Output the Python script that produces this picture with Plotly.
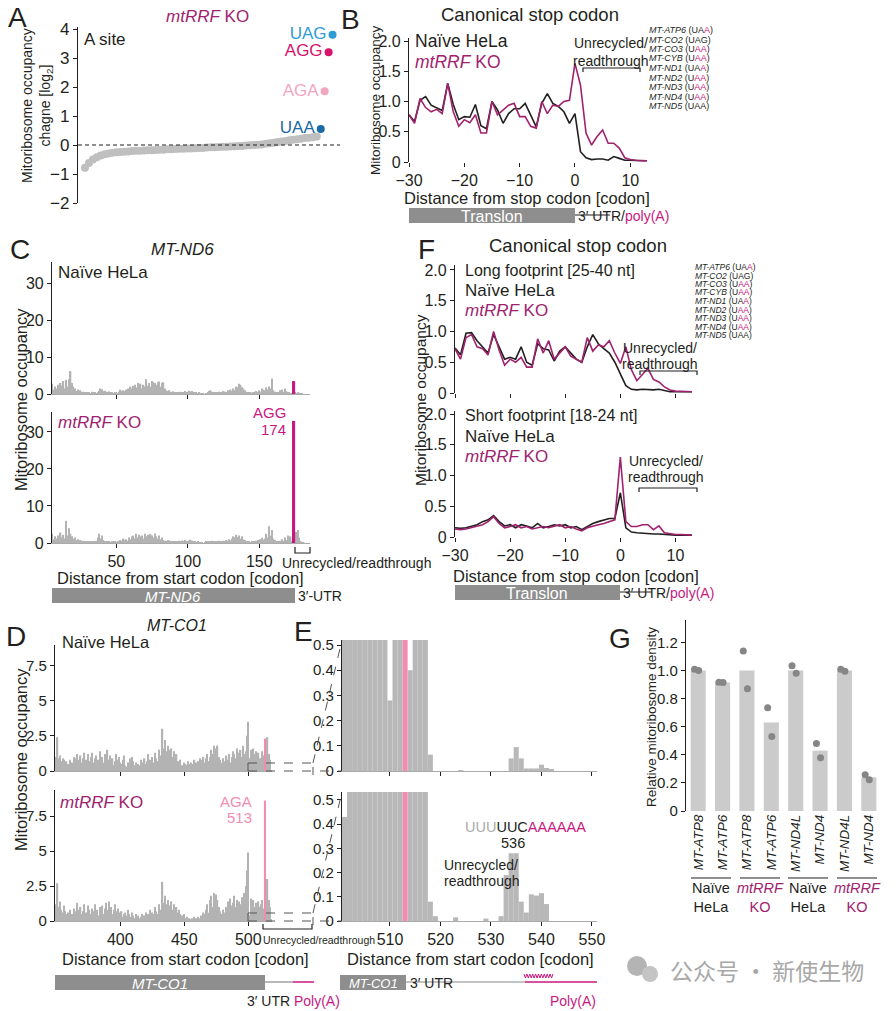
import plotly.graph_objects as go

W, H = 896, 1011
FONT = "Liberation Sans, Arial, Helvetica, sans-serif"
NARROW = "Liberation Sans Narrow, Arial Narrow, Liberation Sans, sans-serif"
DARK = "#231f20"
MAG = "#a0226e"
MAG_BRIGHT = "#c8197f"
PINK = "#f18db0"
GRAY_BAR = "#b3b3b3"
GENE_GRAY = "#8e8e8e"

# ---------------- data ----------------
# A: A-site codon occupancy change (log2), sorted
a_codon_values = [-0.78, -0.62, -0.5, -0.42, -0.36, -0.32, -0.29, -0.27, -0.25, -0.24,
                  -0.23, -0.22, -0.21, -0.20, -0.20, -0.19, -0.18, -0.18, -0.17, -0.16,
                  -0.16, -0.15, -0.15, -0.14, -0.13, -0.13, -0.12, -0.12, -0.11, -0.10,
                  -0.10, -0.09, -0.08, -0.08, -0.07, -0.06, -0.06, -0.05, -0.04, -0.03,
                  -0.03, -0.02, -0.01, 0.0, 0.01, 0.02, 0.04, 0.06, 0.08, 0.10,
                  0.12, 0.14, 0.16, 0.18, 0.20, 0.22, 0.24, 0.25, 0.27, 0.29]
a_highlight_codons = ["UAA", "AGA", "AGG", "UAG"]
a_highlight_values = [0.55, 1.85, 3.2, 3.8]
a_highlight_colors = ["#1b6aa5", "#f4a6c0", "#d6126b", "#2f9bd6"]

# B: metagene around canonical stop codon
b_positions = list(range(-30, 14))
b_naive = [0.78, 0.67, 1.02, 1.08, 0.94, 0.9, 0.85, 1.3, 0.95, 0.7,
           0.75, 0.74, 0.95, 0.6, 0.55, 1.0, 0.86, 0.64, 0.8, 0.88,
           0.88, 0.97, 0.78, 0.58, 0.97, 1.13, 0.97, 0.92, 0.83, 0.64,
           0.8, 0.17, 0.07, 0.04, 0.05, 0.05, 0.03, 0.09, 0.06, 0.03, 0.03, 0.02, 0.02, 0.02]
b_ko = [0.78, 0.64, 1.05, 0.9, 0.83, 0.87, 0.8, 1.3, 0.83, 0.59,
        0.7, 0.65, 0.78, 0.48, 0.48, 1.0, 0.78, 0.86, 0.94, 0.97,
        0.75, 0.75, 0.59, 0.56, 1.0, 0.8, 0.94, 0.92, 1.0, 1.02,
        1.63, 1.27, 0.48, 0.28, 0.42, 0.53, 0.31, 0.31, 0.23, 0.07, 0.04, 0.03, 0.03, 0.02]
stop_genes = ["MT-ATP6", "MT-CO2", "MT-CO3", "MT-CYB", "MT-ND1", "MT-ND2", "MT-ND3", "MT-ND4", "MT-ND5"]
stop_encoded = ["UA", "UAG", "U", "U", "UA", "U", "U", "U", "UAA"]
stop_added = ["A", "", "AA", "AA", "A", "AA", "AA", "AA", ""]

# F: long / short footprints
f_long_naive = [0.73, 0.62, 0.97, 0.98, 0.85, 0.75, 0.65, 0.95, 0.75, 0.55,
                0.58, 0.55, 0.75, 0.5, 0.45, 0.8, 0.72, 0.7, 0.52, 0.68,
                0.75, 0.65, 0.55, 0.5, 0.75, 0.95, 0.8, 0.72, 0.65, 0.5,
                0.3, 0.12, 0.06, 0.05, 0.06, 0.05, 0.05, 0.06, 0.04, 0.02, 0.02, 0.02, 0.02, 0.02]
f_long_ko = [0.72, 0.55, 0.9, 0.95, 0.75, 0.72, 0.62, 1.0, 0.7, 0.45,
             0.55, 0.5, 0.58, 0.42, 0.42, 0.88, 0.65, 0.85, 0.55, 0.65,
             0.75, 0.6, 0.55, 0.5, 0.9, 0.68, 0.78, 0.75, 0.85, 0.65,
             0.48, 0.75, 0.38, 0.2, 0.3, 0.4, 0.22, 0.18, 0.1, 0.05, 0.03, 0.03, 0.02, 0.02]
f_short_naive = [0.15, 0.14, 0.15, 0.18, 0.2, 0.25, 0.28, 0.35, 0.25, 0.18,
                 0.2, 0.15, 0.2, 0.18, 0.15, 0.22, 0.15, 0.17, 0.2, 0.18,
                 0.2, 0.15, 0.17, 0.12, 0.17, 0.22, 0.25, 0.27, 0.3, 0.3,
                 0.72, 0.15, 0.08, 0.07, 0.06, 0.06, 0.05, 0.05, 0.04, 0.03, 0.03, 0.03, 0.03, 0.03]
f_short_ko = [0.13, 0.12, 0.13, 0.15, 0.18, 0.2, 0.25, 0.33, 0.22, 0.15,
              0.17, 0.2, 0.15, 0.17, 0.13, 0.15, 0.17, 0.15, 0.18, 0.2,
              0.15, 0.17, 0.13, 0.1, 0.15, 0.18, 0.2, 0.22, 0.25, 0.28,
              1.3, 0.25, 0.17, 0.17, 0.2, 0.2, 0.12, 0.18, 0.07, 0.05, 0.04, 0.04, 0.04, 0.03]

# C: MT-ND6 codon occupancy (codons 5..183)
c_codons = list(range(5, 184))
c_naive = [2.8, 1.2, 2.0, 1.5, 2.5, 1.0, 3.0, 2.2, 3.5, 1.5,
           3.8, 2.0, 4.0, 6.2, 3.0, 2.0, 1.5, 0.8, 1.2, 0.6,
           1.0, 0.5, 0.6, 0.3, 0.5, 0.4, 0.3, 0.2, 0.6, 0.4,
           0.3, 0.2, 0.5, 0.9, 1.5, 1.3, 0.8, 0.9, 0.4, 0.6,
           0.7, 0.3, 0.5, 0.2, 0.4, 0.3, 0.2, 0.6, 1.2, 0.8,
           1.0, 0.8, 1.2, 1.5, 1.0, 2.0, 1.5, 2.2, 2.5, 1.8,
           3.0, 2.0, 2.8, 1.5, 2.5, 2.0, 4.0, 2.2, 3.0, 2.0,
           3.5, 3.2, 3.0, 2.5, 3.2, 3.4, 2.0, 3.0, 3.2, 1.5,
           1.0, 0.8, 1.0, 0.6, 0.5, 0.7, 0.4, 0.5, 0.3, 0.4,
           0.6, 0.3, 0.5, 0.8, 0.5, 0.6, 0.9, 0.7, 0.8, 0.5,
           0.3, 0.4, 0.2, 0.3, 0.2, 0.1, 0.1, 0.0, 0.2, 0.5,
           0.8, 1.0, 0.6, 0.4, 0.3, 0.5, 0.4, 0.6, 0.3, 0.5,
           0.8, 0.6, 0.5, 1.0, 0.7, 1.2, 0.8, 1.5, 1.0, 2.0,
           1.8, 2.8, 2.5, 1.8, 1.5, 1.0, 0.6, 0.4, 0.3, 0.5,
           0.2, 0.4, 0.6, 0.8, 0.5, 1.0, 0.6, 1.5, 1.2, 1.0,
           1.8, 1.2, 2.0, 1.5, 4.2, 1.0, 0.6, 0.4, 0.3, 0.5,
           1.0, 1.2, 0.6, 1.5, 0.8, 0.4, 0.3, 0.2, 0.1, 0.0,
           0.3, 0.2, 0.3, 0.1, 0.1, 0.1, 0.0, 0.0, 0.0]
c_ko = [2.5, 1.0, 1.8, 1.2, 2.0, 0.8, 2.8, 1.5, 2.2, 1.2,
        6.0, 2.0, 4.0, 2.5, 1.8, 1.2, 1.5, 0.8, 1.0, 0.5,
        0.8, 0.4, 0.6, 0.3, 0.4, 0.3, 0.2, 0.3, 0.5, 0.3,
        0.4, 0.6, 1.5, 2.5, 1.2, 2.0, 0.8, 0.5, 0.3, 0.4,
        0.3, 0.2, 0.4, 0.3, 0.5, 0.2, 0.3, 0.6, 0.8, 0.5,
        1.2, 0.8, 1.0, 0.6, 1.5, 1.0, 1.8, 2.0, 1.2, 2.5,
        1.5, 2.2, 1.8, 2.0, 1.2, 2.5, 1.8, 2.2, 1.5, 2.4,
        2.0, 1.5, 2.6, 1.8, 1.2, 2.0, 1.0, 1.5, 0.8, 0.6,
        0.5, 0.8, 0.4, 0.6, 0.3, 0.5, 0.4, 0.3, 0.5, 0.6,
        0.4, 0.7, 0.5, 0.8, 0.6, 0.5, 0.7, 0.9, 0.6, 0.4,
        0.3, 0.2, 0.3, 0.1, 0.2, 0.1, 0.0, 0.1, 0.3, 0.4,
        0.5, 0.3, 0.6, 0.4, 0.5, 0.3, 0.4, 0.6, 0.5, 0.4,
        0.6, 0.5, 0.8, 0.6, 1.0, 0.7, 1.2, 1.8, 1.5, 2.2,
        1.6, 2.0, 1.2, 1.8, 1.0, 0.8, 0.5, 0.3, 0.4, 0.2,
        0.3, 0.5, 0.4, 0.6, 0.8, 0.5, 1.0, 1.4, 0.9, 1.2,
        2.5, 1.5, 4.5, 2.0, 3.5, 1.2, 0.8, 0.5, 0.3, 0.4,
        0.6, 1.0, 0.5, 1.5, 0.8, 2.0, 0.6, 1.8, 0.5, 0.0,
        2.5, 3.0, 3.5, 1.5, 0.5, 0.2, 0.1, 0.0, 0.0]
c_stop_codon = [174]
c_stop_naive = [3.5]
c_stop_ko = [33.0]

# D/E: MT-CO1 codon occupancy (codons 349..550)
d_codons = list(range(349, 551))
d_naive = [0.8, 1.0, 2.4, 0.9, 1.1, 0.7, 0.9, 0.8, 0.6, 0.7,
           0.5, 0.4, 0.8, 0.6, 0.3, 1.0, 0.9, 1.2, 0.7, 0.8,
           1.1, 0.6, 0.9, 1.3, 0.8, 0.5, 1.2, 0.7, 1.0, 1.3,
           0.6, 0.9, 1.1, 0.5, 0.8, 1.4, 0.7, 1.0, 0.6, 1.2,
           0.9, 1.5, 0.8, 1.1, 0.6, 0.9, 0.4, 0.7, 1.2, 0.8,
           1.0, 0.6, 0.5, 0.8, 1.1, 0.4, 0.3, 0.6, 0.5, 0.9,
           1.0, 0.7, 0.4, 0.6, 0.3, 0.5, 0.4, 0.8, 0.3, 0.6,
           0.9, 0.5, 0.7, 1.2, 0.8, 0.4, 1.0, 0.6, 1.3, 0.9,
           0.7, 1.5, 1.1, 0.8, 3.0, 1.6, 2.2, 1.4, 1.8, 1.5,
           1.2, 1.6, 1.0, 1.4, 0.9, 1.2, 0.7, 0.5, 0.8, 0.4,
           0.3, 0.6, 0.5, 0.4, 0.7, 0.5, 0.6, 0.3, 0.5, 0.8,
           0.6, 0.4, 0.7, 0.9, 0.5, 0.8, 1.0, 0.6, 0.9, 1.2,
           0.7, 1.0, 1.5, 1.2, 1.8, 1.6, 1.3, 1.8, 1.0, 0.8,
           0.6, 0.9, 0.5, 0.7, 1.1, 0.8, 1.2, 0.6, 1.0, 1.4,
           1.2, 0.9, 1.6, 1.1, 1.3, 1.5, 1.0, 1.8, 1.2, 1.4,
           2.5, 3.5, 0.9, 1.5, 1.3, 1.6, 1.2, 1.4, 1.0, 1.3,
           0.9, 0.28, 1.4, 1.1, 0.0, 0.4, 2.4, 1.2, 0.8, 0.065,
           0, 0, 0, 0, 0, 0.003, 0, 0, 0, 0,
           0, 0, 0, 0, 0, 0.05, 0.095, 0.05, 0.01, 0.01,
           0.01, 0.025, 0.012, 0.008, 0, 0, 0, 0, 0, 0,
           0, 0]
d_ko = [0.9, 1.2, 2.7, 1.0, 1.4, 0.8, 0.6, 1.1, 0.7, 0.5,
        0.6, 0.4, 0.8, 0.5, 0.3, 0.9, 0.7, 1.3, 0.6, 0.8,
        1.0, 0.5, 0.7, 1.2, 0.6, 0.4, 1.1, 0.8, 0.5, 0.9,
        0.7, 1.2, 0.6, 0.8, 0.4, 1.0, 0.7, 1.1, 0.5, 0.9,
        1.3, 0.8, 1.4, 0.6, 1.0, 0.5, 0.8, 1.2, 0.7, 0.9,
        0.6, 0.4, 0.7, 0.3, 0.5, 0.6, 0.4, 0.8, 0.5, 0.3,
        0.6, 0.4, 0.2, 0.5, 0.3, 0.4, 0.2, 0.3, 0.5, 0.3,
        0.4, 0.6, 0.3, 0.5, 0.8, 0.4, 0.6, 0.5, 1.0, 0.7,
        0.5, 1.2, 0.8, 0.6, 2.8, 1.3, 1.8, 1.2, 1.5, 1.0,
        1.1, 1.4, 0.8, 1.2, 0.9, 1.0, 0.6, 0.8, 0.5, 0.4,
        0.3, 0.5, 0.2, 0.3, 0.1, 0.2, 0.1, 0.2, 0.1, 0.3,
        0.2, 0.1, 0.3, 0.2, 0.4, 0.3, 0.6, 0.5, 0.8, 1.2,
        0.6, 1.5, 1.8, 1.0, 2.0, 1.3, 1.9, 1.5, 1.0, 0.7,
        0.5, 0.8, 0.4, 0.6, 1.0, 1.4, 0.9, 1.6, 1.1, 1.3,
        1.8, 1.0, 1.5, 0.8, 1.4, 1.2, 1.7, 1.0, 2.0, 2.5,
        3.6, 4.9, 0.43, 1.6, 1.2, 1.5, 1.0, 1.3, 1.1, 1.4,
        1.0, 1.2, 1.5, 0.9, 0.0, 1.3, 3.0, 1.5, 1.0, 0.08,
        0.02, 0, 0, 0, 0.015, 0, 0, 0, 0, 0,
        0.01, 0, 0, 0.02, 0.19, 0.28, 0.28, 0.08, 0.035, 0.11,
        0.105, 0.115, 0.07, 0, 0, 0, 0, 0, 0, 0,
        0, 0]
d_stop_codon = [513]
d_stop_naive = [2.3]
d_stop_ko = [8.6]

# G: relative mitoribosome density
g_genes = ["MT-ATP8", "MT-ATP6", "MT-ATP8", "MT-ATP6", "MT-ND4L", "MT-ND4", "MT-ND4L", "MT-ND4"]
g_mean = [1.0, 0.915, 1.0, 0.63, 1.0, 0.43, 1.0, 0.24]
g_rep1 = [1.01, 0.917, 1.14, 0.735, 1.035, 0.48, 1.01, 0.258]
g_rep2 = [1.0, 0.915, 0.87, 0.53, 0.98, 0.38, 0.995, 0.222]
g_groups = ["Naïve<br>HeLa", "<i>mtRRF</i><br>KO", "Naïve<br>HeLa", "<i>mtRRF</i><br>KO"]

# ---------------- helpers ----------------
def fx(p):
    return p / W


def fy(p):
    return 1 - p / H


anns, shapes, axes_layout = [], [], {}


def T(x, y, s, size=16, color=DARK, xa="center", ya="middle", fam=FONT, angle=0):
    anns.append(dict(x=fx(x), y=fy(y), xref="paper", yref="paper", text=s, showarrow=False,
                     xanchor=xa, yanchor=ya, textangle=angle,
                     font=dict(family=fam, size=size, color=color)))


def L(x0, y0, x1, y1, color=DARK, w=1.2, dash="solid"):
    shapes.append(dict(type="line", xref="paper", yref="paper", x0=fx(x0), y0=fy(y0),
                       x1=fx(x1), y1=fy(y1), line=dict(color=color, width=w, dash=dash)))


def R(x0, y0, x1, y1, fill):
    shapes.append(dict(type="rect", xref="paper", yref="paper", x0=fx(x0), y0=fy(y1),
                       x1=fx(x1), y1=fy(y0), fillcolor=fill, line=dict(width=0), layer="below"))


def P(pts, color=DARK, w=1.2):
    d = "M " + " L ".join(f"{fx(a):.5f},{fy(b):.5f}" for a, b in pts)
    shapes.append(dict(type="path", xref="paper", yref="paper", path=d,
                       line=dict(color=color, width=w)))


def C(cx, cy, r, fill):
    shapes.append(dict(type="circle", xref="paper", yref="paper", x0=fx(cx - r), x1=fx(cx + r),
                       y0=fy(cy + r), y1=fy(cy - r), fillcolor=fill, line=dict(width=0)))


def axes(n, xdom, ydom, xr, yr, xkw=None, ykw=None):
    s = "" if n == 1 else str(n)
    base = dict(showgrid=False, zeroline=False, ticks="outside", ticklen=4, tickwidth=1,
                tickcolor=DARK, linecolor=DARK, linewidth=1.2, fixedrange=True,
                tickfont=dict(family=FONT, size=16, color=DARK))
    xa = dict(base)
    xa.update(domain=[fx(xdom[0]), fx(xdom[1])], range=xr, anchor="y" + s, showline=False)
    if xkw:
        xa.update(xkw)
    ya = dict(base)
    ya.update(domain=[fy(ydom[1]), fy(ydom[0])], range=yr, anchor="x" + s, showline=True)
    if ykw:
        ya.update(ykw)
    axes_layout["xaxis" + s] = xa
    axes_layout["yaxis" + s] = ya
    return ("x" + s, "y" + s)


def tf(size):
    return dict(family=FONT, size=size, color=DARK)


fig = go.Figure()

# ---------------- Panel A ----------------
ax = axes(1, (78, 340), (27, 203), [-0.79, 65.9], [-2, 4.07],
          xkw=dict(visible=False),
          ykw=dict(tickvals=[-2, -1, 0, 1, 2, 3, 4], tickfont=tf(17)))
fig.add_trace(go.Scatter(x=list(range(1, len(a_codon_values) + 1)), y=a_codon_values, mode="markers",
                         marker=dict(size=8, color="#bfbfbf", line=dict(width=0)),
                         xaxis=ax[0], yaxis=ax[1], hoverinfo="skip"))
fig.add_trace(go.Scatter(x=[61, 62, 63, 64], y=a_highlight_values, mode="markers+text",
                         text=a_highlight_codons, textposition="middle left",
                         textfont=dict(family=FONT, size=17, color=a_highlight_colors),
                         marker=dict(size=8, color=a_highlight_colors, line=dict(width=0)),
                         xaxis=ax[0], yaxis=ax[1], hoverinfo="skip"))
shapes.append(dict(type="line", xref="x domain", yref="y", x0=0, x1=1, y0=0, y1=0,
                   line=dict(color=DARK, width=1.2, dash="4px,3px")))
T(17, 18, "A", size=28)
T(207, 17, "<i>mtRRF</i> KO", size=17, color=MAG)
T(82, 39, "A site", size=17, xa="left")
T(37, 106, "Mitoribosome occupancy<br>chagne [log<sub>2</sub>]", size=14, angle=-90)

# ---------------- Panel B ----------------
ticks_2 = dict(tickvals=[0, 0.5, 1, 1.5, 2], ticktext=["0", "0.5", "1.0", "1.5", "2.0"])
ax = axes(2, (409, 648), (38, 162), [-30, 13.2], [0, 2.05],
          xkw=dict(tickvals=[-30, -20, -10, 0, 10]), ykw=ticks_2)
fig.add_trace(go.Scatter(x=b_positions, y=b_naive, mode="lines", line=dict(color=DARK, width=1.6),
                         xaxis=ax[0], yaxis=ax[1], hoverinfo="skip"))
fig.add_trace(go.Scatter(x=b_positions, y=b_ko, mode="lines", line=dict(color=MAG, width=1.6),
                         xaxis=ax[0], yaxis=ax[1], hoverinfo="skip"))
T(350, 20, "B", size=28)
T(530, 15, "Canonical stop codon", size=18.5)
T(413, 41, "Naïve HeLa", size=17.5, xa="left")
T(413, 62, "<i>mtRRF</i> KO", size=17.5, xa="left", color=MAG)
T(611, 43, "Unrecycled/", size=14, fam=NARROW)
T(611, 61, "readthrough", size=14, fam=NARROW)
P([(583, 72), (583, 68), (640, 68), (640, 72)])
for i, g in enumerate(stop_genes):
    add = f"<span style='color:{MAG_BRIGHT}'>{stop_added[i]}</span>" if stop_added[i] else ""
    T(647, 30 + i * 9.5, f"<i>{g}</i> ({stop_encoded[i]}{add})", size=9, xa="left")
T(375, 100, "Mitoribosome occupancy", size=13.5, angle=-90)
T(527, 198, "Distance from stop codon [codon]", size=16.5)
R(409, 208, 575, 223, GENE_GRAY)
T(492, 216, "Translon", size=16, color="white")
L(575, 215, 610, 215, color=DARK, w=1)
T(576, 216, f"3′ UTR/<span style='color:{MAG_BRIGHT}'>poly(A)</span>", size=14, xa="left")

# ---------------- Panel C ----------------
c_ticks = dict(tickvals=[0, 10, 20, 30])
for n, vals, stop, ydom, ymax, lab in [(3, c_naive, c_stop_naive, (262, 394), 35.7, False),
                                       (4, c_ko, c_stop_ko, (412, 543), 35.4, True)]:
    ax = axes(n, (52, 310), ydom, [5, 185.5], [0, ymax],
              xkw=dict(tickvals=[50, 100, 150], showticklabels=lab, showline=True,
                       linecolor="#aaaaaa", linewidth=1), ykw=c_ticks)
    fig.add_trace(go.Bar(x=c_codons, y=vals, width=1, marker=dict(color=GRAY_BAR, line=dict(width=0)),
                         xaxis=ax[0], yaxis=ax[1], hoverinfo="skip"))
    fig.add_trace(go.Bar(x=c_stop_codon, y=stop, width=2.2, marker=dict(color=MAG_BRIGHT, line=dict(width=0)),
                         xaxis=ax[0], yaxis=ax[1], hoverinfo="skip"))
T(20, 250, "C", size=28)
T(182, 250, "<i>MT-ND6</i>", size=17)
T(56, 272, "Naïve HeLa", size=17, xa="left")
T(56, 422, "<i>mtRRF</i> KO", size=17, xa="left", color=MAG)
T(288, 413, "AGG", size=15, xa="right", color=MAG_BRIGHT, fam=NARROW)
T(288, 429, "174", size=15, xa="right", color=MAG_BRIGHT, fam=NARROW)
T(21, 400, "Mitoribosome occupancy", size=16.5, angle=-90)
T(180, 578, "Distance from start codon [codon]", size=16.5)
R(52, 588, 295, 603, GENE_GRAY)
T(173, 596, "<i>MT-ND6</i>", size=15, color="white")
T(296, 596, "3′-UTR", size=14, xa="left")
P([(295, 547), (295, 553), (310, 553), (310, 547)])
T(280, 563, "Unrecycled/readthrough", size=14, xa="left", fam=NARROW)

# ---------------- Panel F ----------------
for n, naive, ko, ydom, ymax, lab in [(5, f_long_naive, f_long_ko, (265, 393), 2.08, False),
                                      (6, f_short_naive, f_short_ko, (411, 537), 2.05, True)]:
    ax = axes(n, (455, 692), ydom, [-30, 13], [0, ymax],
              xkw=dict(tickvals=[-30, -20, -10, 0, 10], showticklabels=lab), ykw=ticks_2)
    fig.add_trace(go.Scatter(x=b_positions, y=naive, mode="lines", line=dict(color=DARK, width=1.6),
                             xaxis=ax[0], yaxis=ax[1], hoverinfo="skip"))
    fig.add_trace(go.Scatter(x=b_positions, y=ko, mode="lines", line=dict(color=MAG, width=1.6),
                             xaxis=ax[0], yaxis=ax[1], hoverinfo="skip"))
T(426, 250, "F", size=28)
T(578, 246, "Canonical stop codon", size=18.5)
T(463, 270, "Long footprint [25-40 nt]", size=16, xa="left")
T(463, 290, "Naïve HeLa", size=17, xa="left")
T(463, 310, "<i>mtRRF</i> KO", size=17, xa="left", color=MAG)
T(463, 416, "Short footprint [18-24 nt]", size=16, xa="left")
T(463, 436, "Naïve HeLa", size=17, xa="left")
T(463, 456, "<i>mtRRF</i> KO", size=17, xa="left", color=MAG)
T(660, 348, "Unrecycled/", size=14, fam=NARROW)
T(660, 364, "readthrough", size=14, fam=NARROW)
P([(640, 375), (640, 371), (697, 371), (697, 375)])
T(666, 461, "Unrecycled/", size=14, fam=NARROW)
T(666, 477, "readthrough", size=14, fam=NARROW)
P([(639, 492), (639, 488), (697, 488), (697, 492)])
for i, g in enumerate(stop_genes):
    add = f"<span style='color:{MAG_BRIGHT}'>{stop_added[i]}</span>" if stop_added[i] else ""
    T(693, 267 + i * 8.5, f"<i>{g}</i> ({stop_encoded[i]}{add})", size=8.5, xa="left")
T(421, 400, "Mitoribosome occupancy", size=15.5, angle=-90)
T(576, 576, "Distance from stop codon [codon]", size=16.5)
R(455, 585, 620, 600, GENE_GRAY)
T(537, 593, "Translon", size=16, color="white")
L(620, 592, 652, 592, color=DARK, w=1)
T(621, 593, f"3′ UTR/<span style='color:{MAG_BRIGHT}'>poly(A)</span>", size=14, xa="left")

# ---------------- Panel D ----------------
d_ticks = dict(tickvals=[0, 2.5, 5, 7.5], ticktext=["0", "2.5", "5", "7.5"], tickfont=tf(15))
for n, vals, stop, ydom, ymax, lab in [(7, d_naive, d_stop_naive, (645, 771), 8.94, False),
                                       (8, d_ko, d_stop_ko, (790, 921), 9.36, True)]:
    ax = axes(n, (55, 272), ydom, [349, 518.5], [0, ymax],
              xkw=dict(tickvals=[400, 450, 500], showticklabels=lab, showline=True,
                       linecolor="#aaaaaa", linewidth=1), ykw=d_ticks)
    fig.add_trace(go.Bar(x=d_codons, y=vals, width=1, marker=dict(color=GRAY_BAR, line=dict(width=0)),
                         xaxis=ax[0], yaxis=ax[1], hoverinfo="skip"))
    fig.add_trace(go.Bar(x=d_stop_codon, y=stop, width=1.6, marker=dict(color=PINK, line=dict(width=0)),
                         xaxis=ax[0], yaxis=ax[1], hoverinfo="skip"))
T(16, 636, "D", size=28)
T(177, 625, "<i>MT-CO1</i>", size=16)
T(60, 642, "Naïve HeLa", size=16.5, xa="left")
T(58, 802, "<i>mtRRF</i> KO", size=17, xa="left", color=MAG)
T(254, 801, "AGA", size=15, xa="right", color=PINK, fam=NARROW)
T(254, 817, "513", size=15, xa="right", color=PINK, fam=NARROW)
T(21, 760, "Mitoribosome occupancy", size=16.5, angle=-90)
T(185, 959, "Distance from start codon [codon]", size=16.5)
R(55, 975, 265, 990, GENE_GRAY)
T(160, 983, "<i>MT-CO1</i>", size=15, color="white")
L(265, 982, 293, 982, color="#888888", w=1.2)
L(293, 982, 314, 982, color=MAG_BRIGHT, w=1.5)
T(245, 1001, f"3′ UTR <span style='color:{MAG_BRIGHT}'>Poly(A)</span>", size=14, xa="left")
P([(263, 924), (263, 929), (312, 929), (312, 924)])
T(261, 940, "Unrecycled/readthrough", size=10.5, xa="left", fam=NARROW)

# zoom connectors D -> E
for y0, ytop, etop in [(771, 763, 640), (921, 913, 792)]:
    L(248, y0, 248, ytop, color="#555555", w=1, dash="dash")
    L(248, ytop, 313, ytop, color="#555555", w=1, dash="dash")
    L(248, y0, 342, y0, color="#555555", w=1, dash="dash")
    L(313, ytop, 342, etop, color="#555555", w=1, dash="dash")
    L(313, y0 - 4, 313, y0 + 4, color="#555555", w=1)

# ---------------- Panel E ----------------
e_ticks = dict(tickvals=[0, 0.1, 0.2, 0.3, 0.4, 0.5], ticktext=["0", "0.1", "0.2", "0.3", "0.4", "0.5"],
               tickfont=tf(15))
for n, vals, stop, ydom, ymax, lab in [(9, d_naive, d_stop_naive, (640, 771), 0.52, False),
                                       (10, d_ko, d_stop_ko, (792, 921), 0.533, True)]:
    ax = axes(n, (342, 597), ydom, [500.5, 551], [0, ymax],
              xkw=dict(tickvals=[510, 520, 530, 540, 550], showticklabels=lab, showline=True,
                       linecolor="#aaaaaa", linewidth=1), ykw=e_ticks)
    fig.add_trace(go.Bar(x=d_codons, y=vals, width=1, marker=dict(color="#b8b8b8", line=dict(width=0)),
                         xaxis=ax[0], yaxis=ax[1], hoverinfo="skip"))
    fig.add_trace(go.Bar(x=d_stop_codon, y=stop, width=1, marker=dict(color=PINK, line=dict(width=0)),
                         xaxis=ax[0], yaxis=ax[1], hoverinfo="skip"))
T(303, 631, "E", size=28)
T(463, 827, f"<span style='color:#aaaaaa'>UUU</span>UUC<span style='color:{MAG_BRIGHT}'>AAAAAA</span>",
  size=14.5, xa="left")
T(513, 843, "536", size=14.5)
T(442, 865, "Unrecycled/", size=14, xa="left", fam=NARROW)
T(442, 881, "readthrough", size=14, xa="left", fam=NARROW)
T(470, 959, "Distance from start codon [codon]", size=16.5)
R(340, 975, 406, 990, GENE_GRAY)
T(373, 983, "<i>MT-CO1</i>", size=13, color="white")
L(406, 982, 525, 982, color="#888888", w=1.2)
L(525, 982, 597, 982, color=MAG_BRIGHT, w=1.5)
zig = []
for k in range(21):
    zig.append((524 + k * 1.45, 974 if k % 2 == 0 else 978))
P(zig, color=MAG_BRIGHT, w=1)
T(408, 983, "3′ UTR", size=14, xa="left")
T(598, 1001, "Poly(A)", size=14, xa="right", color=MAG_BRIGHT)

# ---------------- Panel G ----------------
g_idx = list(range(len(g_genes)))
ax = axes(11, (686, 881), (620, 811), [-0.5, 7.5], [0, 1.36],
          xkw=dict(tickvals=g_idx, ticktext=[f"<i>{g}</i>" for g in g_genes], tickangle=-90,
                   ticks="", tickfont=tf(13.5)),
          ykw=dict(tickvals=[0, 0.2, 0.4, 0.6, 0.8, 1.0, 1.2],
                   ticktext=["0", "0.2", "0.4", "0.6", "0.8", "1.0", "1.2"], tickfont=tf(15)))
fig.add_trace(go.Bar(x=g_idx, y=g_mean, width=0.62, marker=dict(color="#cbcbcb", line=dict(width=0)),
                     xaxis=ax[0], yaxis=ax[1], hoverinfo="skip"))
fig.add_trace(go.Scatter(x=[i - 0.15 for i in g_idx], y=g_rep1, mode="markers",
                         marker=dict(size=7, color="#868686", line=dict(width=0)),
                         xaxis=ax[0], yaxis=ax[1], hoverinfo="skip"))
fig.add_trace(go.Scatter(x=[i + 0.02 for i in g_idx], y=g_rep2, mode="markers",
                         marker=dict(size=7, color="#868686", line=dict(width=0)),
                         xaxis=ax[0], yaxis=ax[1], hoverinfo="skip"))
T(620, 638, "G", size=28)
T(651, 717, "Relative mitoribosome density", size=13.5, angle=-90)
for gi, (x0, x1) in enumerate([(691, 731), (740, 780), (788, 828), (837, 877)]):
    L(x0, 878, x1, 878, color=DARK, w=1.2)
    T((x0 + x1) / 2, 897, g_groups[gi], size=14.5, color=MAG if gi % 2 else DARK)

# watermark
C(637, 966, 10, "#b4b4b4")
C(650, 974, 8, "#c4c4c4")
T(767, 970, "公众号 · 新使生物", size=23, color="#a8a8a8", fam="Noto Sans CJK SC")

fig.update_layout(width=W, height=H, margin=dict(l=0, r=0, t=0, b=0), template="none",
                  paper_bgcolor="white", plot_bgcolor="white", showlegend=False, barmode="overlay",
                  font=dict(family=FONT, color=DARK), annotations=anns, shapes=shapes, **axes_layout)
fig.write_html("out.html")
